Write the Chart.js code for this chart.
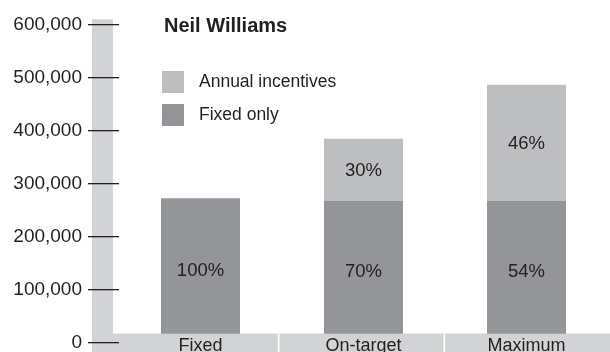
<!DOCTYPE html>
<html><head><meta charset="utf-8">
<script src="https://cdn.jsdelivr.net/npm/chart.js@4/dist/chart.umd.min.js"></script>
<style>html,body{margin:0;padding:0;background:#fff;}canvas{display:block;}</style>
</head><body>
<canvas id="c" width="610" height="352"></canvas>
<script>
const chartTitle = 'Neil Williams';
const categories = ['Fixed', 'On-target', 'Maximum'];
const seriesNames = ['Fixed only', 'Annual incentives'];
const fixedValues = [272000, 267000, 267000];
const annualValues = [0, 117000, 219000];
const fixedPct = ['100%', '70%', '54%'];
const annualPct = ['', '30%', '46%'];
const yTickValues = [0, 100000, 200000, 300000, 400000, 500000, 600000];
const yTickLabels = ['0', '100,000', '200,000', '300,000', '400,000', '500,000', '600,000'];

const FONT = "'Liberation Sans', Arial, Helvetica, sans-serif";
const TEXT = '#231f20';
const C_FIXED = '#939598';
const C_ANNUAL = '#bcbec0';
const C_BAND = '#d1d3d4';

Chart.defaults.font.family = FONT;

const deco = {
  id: 'deco',
  beforeDraw(chart) {
    const { ctx, chartArea: ca } = chart;
    ctx.save();
    ctx.fillStyle = C_BAND;
    const bx = ca.left - 27;
    ctx.fillRect(bx, ca.top - 5, 21, chart.height - (ca.top - 5));
    const bandTop = ca.bottom - 8.6;
    ctx.fillRect(bx, bandTop, chart.width - bx, chart.height - bandTop);
    ctx.restore();
  },
  afterDatasetsDraw(chart) {
    const { ctx, chartArea: ca } = chart;
    const xs = chart.scales.x;
    ctx.save();
    const bandTop = ca.bottom - 8.6;
    ctx.fillStyle = C_BAND;
    ctx.fillRect(ca.left, bandTop, chart.width - ca.left, chart.height - bandTop);
    const b0 = ca.left - 6, b1 = chart.width;
    ctx.fillStyle = '#ffffff';
    for (let k = 1; k < categories.length; k++) {
      const sx = b0 + k * (b1 - b0) / categories.length;
      ctx.fillRect(sx - 0.85, bandTop, 1.7, chart.height - bandTop);
    }
    ctx.fillStyle = TEXT;
    ctx.font = '18px ' + FONT;
    ctx.textAlign = 'center';
    ctx.textBaseline = 'alphabetic';
    categories.forEach((c, i) => {
      ctx.fillText(c, xs.getPixelForValue(i), ca.bottom + 9);
    });
    ctx.font = '18.5px ' + FONT;
    ctx.textBaseline = 'middle';
    const pcts = [fixedPct, annualPct];
    chart.data.datasets.forEach((ds, di) => {
      const meta = chart.getDatasetMeta(di);
      meta.data.forEach((el, i) => {
        const t = pcts[di][i];
        if (!t) return;
        ctx.fillText(t, el.x, (el.y + el.base) / 2 + 1);
      });
    });
    ctx.textAlign = 'left';
    ctx.textBaseline = 'alphabetic';
    ctx.font = 'bold 20px ' + FONT;
    ctx.fillText(chartTitle, 164, 31.5);
    ctx.font = '17.5px ' + FONT;
    ctx.textBaseline = 'middle';
    const items = chart.data.datasets.slice().reverse();
    items.forEach((ds, k) => {
      const y = 71 + k * 33;
      ctx.fillStyle = ds.backgroundColor;
      ctx.fillRect(162, y, 22, 22);
      ctx.fillStyle = TEXT;
      ctx.fillText(ds.label, 199, y + 11.5);
    });
    ctx.restore();
  }
};

new Chart(document.getElementById('c'), {
  type: 'bar',
  data: {
    labels: categories,
    datasets: [
      { label: seriesNames[0], data: fixedValues, backgroundColor: C_FIXED },
      { label: seriesNames[1], data: annualValues, backgroundColor: C_ANNUAL }
    ]
  },
  options: {
    responsive: false,
    animation: false,
    devicePixelRatio: 1,
    layout: { padding: { top: 24.3, bottom: 9.7, left: 0, right: 2 } },
    plugins: { legend: { display: false }, title: { display: false }, tooltip: { enabled: false } },
    datasets: { bar: { categoryPercentage: 1, barPercentage: 0.4847, borderWidth: 0 } },
    scales: {
      x: { stacked: true, display: false },
      y: {
        stacked: true,
        min: 0, max: 600000,
        afterFit: s => { s.width = 119; s.paddingTop = 0; s.paddingBottom = 0; },
        afterBuildTicks: s => { s.ticks = yTickValues.map(v => ({ value: v })); },
        border: { display: false },
        grid: { drawOnChartArea: false, drawTicks: true, tickLength: 31, color: TEXT, lineWidth: 1.3 },
        ticks: {
          padding: 6,
          color: TEXT,
          font: { size: 19, lineHeight: 1 },
          callback: v => yTickLabels[yTickValues.indexOf(v)]
        }
      }
    }
  },
  plugins: [deco]
});
</script>
</body></html>
